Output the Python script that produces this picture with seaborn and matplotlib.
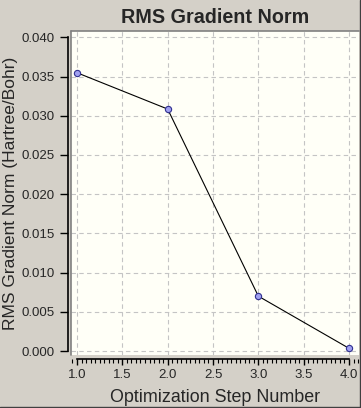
import matplotlib
matplotlib.use("Agg")
import matplotlib.pyplot as plt
import seaborn as sns
import pandas as pd
from matplotlib.ticker import MultipleLocator, FormatStrFormatter
from matplotlib.lines import Line2D

steps = [1, 2, 3, 4]
rms_gradient = [0.03548, 0.03085, 0.00700, 0.00035]
title = "RMS Gradient Norm"
xlabel = "Optimization Step Number"
ylabel = "RMS Gradient Norm (Hartree/Bohr)"

df = pd.DataFrame({"step": steps, "rms": rms_gradient})

sns.set_style("white")
plt.rcParams['font.family'] = ['Liberation Sans', 'DejaVu Sans']

W, H = 361, 408
fig = plt.figure(figsize=(W / 100, H / 100), dpi=100)
fig.patch.set_facecolor("#d4d0c8")

l, r, t, b = 71, 359, 31, 355
ax = fig.add_axes([l / W, (H - b) / H, (r - l) / W, (b - t) / H])
ax.set_facecolor("#fffff7")

sns.lineplot(data=df, x="step", y="rms", ax=ax, color="black", linewidth=0.8,
             marker="o", markersize=4.5, markerfacecolor="#a0a0f0",
             markeredgecolor="#303090", markeredgewidth=0.8)

ax.set_xlim(0.934, 4.11)
ax.set_ylim(-0.0005, 0.0408)

ax.xaxis.set_major_locator(MultipleLocator(0.5))
ax.xaxis.set_minor_locator(MultipleLocator(0.05))
ax.yaxis.set_major_locator(MultipleLocator(0.005))
ax.xaxis.set_major_formatter(FormatStrFormatter("%.1f"))
ax.yaxis.set_major_formatter(FormatStrFormatter("%.3f"))

ax.grid(True, which="major", color="#c4c4c4", linestyle=(0, (4, 3)), linewidth=0.8)

for s in ["top", "right"]:
    ax.spines[s].set_visible(False)
ax.spines["left"].set_position(("outward", 2.2))
ax.spines["bottom"].set_position(("outward", 2.9))
ax.spines["left"].set_bounds(0.0, 0.040)
ax.spines["bottom"].set_bounds(1.0, 4.0)
for s in ["left", "bottom"]:
    ax.spines[s].set_color("black")
    ax.spines[s].set_linewidth(1.2)

ax.tick_params(axis="y", which="major", direction="out", length=5.8, width=1.0,
               color="black", pad=3.5, labelsize=9.5, left=True)
ax.tick_params(axis="x", which="major", direction="out", length=4.5, width=1.0,
               color="black", pad=2.5, labelsize=9.5, bottom=True)
ax.tick_params(axis="x", which="minor", direction="out", length=2.8, width=0.8,
               color="black", bottom=True)

ax.set_xlabel(xlabel, fontsize=12.9, labelpad=6)
ax.set_ylabel(ylabel, fontsize=12.5, labelpad=3)
ax.set_title(title, fontsize=14.2, fontweight="bold", pad=6)

# sunken border on the plot area (left and top)
ax.plot([0, 0], [0, 1], transform=ax.transAxes, color="#808080", linewidth=1.2, clip_on=False)
ax.plot([0, 1], [1, 1], transform=ax.transAxes, color="#808080", linewidth=1.2, clip_on=False)

# window frame at right and bottom edges
fig.add_artist(Line2D([1 - 0.7 / W, 1 - 0.7 / W], [0, 1], transform=fig.transFigure,
                      color="#404040", linewidth=1.0))
fig.add_artist(Line2D([0, 1], [0.7 / H, 0.7 / H], transform=fig.transFigure,
                      color="#404040", linewidth=1.0))

fig.savefig("out.png", dpi=100, facecolor=fig.get_facecolor())
